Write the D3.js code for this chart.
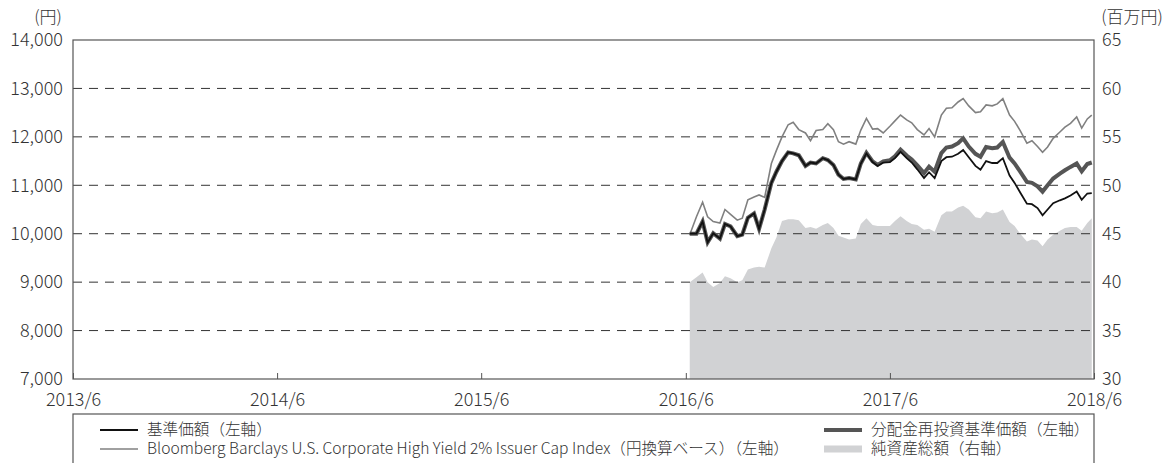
<!DOCTYPE html>
<html><head><meta charset="utf-8">
<script src="https://cdn.jsdelivr.net/npm/d3@7"></script>
<style>
body{margin:0;background:#fff;}
text{font-family:"Noto Sans CJK JP","Noto Sans",sans-serif;fill:#333;font-weight:300;}
</style></head><body>
<svg id="c" width="1165" height="463"></svg>
<script>
const dates = ["2016-06-08","2016-06-20","2016-07-01","2016-07-10","2016-07-20","2016-08-01","2016-08-10","2016-08-20","2016-09-01","2016-09-10","2016-09-20","2016-10-01","2016-10-10","2016-10-20","2016-11-01","2016-11-10","2016-11-20","2016-12-01","2016-12-10","2016-12-20","2017-01-01","2017-01-10","2017-01-20","2017-02-01","2017-02-10","2017-02-20","2017-03-01","2017-03-10","2017-03-20","2017-04-01","2017-04-10","2017-04-20","2017-05-01","2017-05-10","2017-05-20","2017-06-01","2017-06-10","2017-06-20","2017-07-01","2017-07-10","2017-07-20","2017-08-01","2017-08-10","2017-08-20","2017-09-01","2017-09-10","2017-09-20","2017-10-01","2017-10-10","2017-10-20","2017-11-01","2017-11-10","2017-11-20","2017-12-01","2017-12-10","2017-12-20","2018-01-01","2018-01-10","2018-01-20","2018-02-01","2018-02-10","2018-02-20","2018-03-01","2018-03-10","2018-03-20","2018-04-01","2018-04-10","2018-04-20","2018-05-01","2018-05-10","2018-05-20","2018-05-28"];
const nav = [10000,10000,10250,9820,10010,9900,10200,10150,9950,9980,10330,10420,10100,10500,11050,11280,11500,11680,11660,11620,11400,11470,11450,11560,11520,11420,11220,11130,11150,11120,11450,11660,11480,11400,11470,11480,11560,11690,11560,11470,11330,11150,11270,11150,11500,11580,11590,11650,11730,11580,11400,11320,11500,11460,11460,11560,11200,11050,10850,10620,10610,10530,10380,10500,10630,10690,10730,10790,10870,10700,10830,10840];
const navReinv = [10000,10000,10250,9820,10010,9900,10200,10150,9950,9980,10330,10420,10100,10500,11050,11280,11500,11680,11660,11620,11400,11470,11450,11560,11520,11420,11220,11130,11150,11120,11450,11670,11495,11420,11495,11515,11600,11735,11615,11535,11410,11250,11385,11280,11665,11780,11800,11870,11970,11800,11650,11590,11790,11765,11780,11895,11570,11450,11280,11070,11050,10980,10870,11000,11140,11240,11310,11380,11450,11290,11440,11470];
const bench = [9980,10350,10650,10350,10250,10220,10500,10400,10280,10320,10700,10760,10800,10750,11450,11720,12000,12250,12300,12150,12080,11920,12130,12150,12270,12150,11900,11850,11900,11850,12140,12380,12160,12170,12080,12220,12330,12450,12350,12290,12150,12040,12170,12000,12450,12590,12600,12720,12790,12640,12500,12520,12660,12640,12680,12790,12450,12320,12130,11870,11920,11800,11680,11790,11970,12100,12200,12280,12410,12180,12370,12450];
const assets = [40.0,40.5,41.0,40.0,39.5,39.9,40.6,40.4,40.0,40.2,41.3,41.5,41.6,41.5,43.5,44.6,46.3,46.5,46.5,46.4,45.6,45.7,45.5,45.9,46.1,45.6,44.8,44.6,44.4,44.5,46.0,46.6,45.9,45.8,45.8,45.8,46.3,46.8,46.3,46.0,45.9,45.4,45.5,45.2,46.9,47.3,47.3,47.7,47.9,47.5,46.7,46.6,47.3,47.1,47.2,47.5,46.2,45.8,45.0,44.2,44.4,44.3,43.7,44.4,44.9,45.3,45.6,45.7,45.7,45.3,46.1,46.6];
const leftTicks = [7000,8000,9000,10000,11000,12000,13000,14000];
const rightTicks = [30,35,40,45,50,55,60,65];
const xTickLabels = ["2013/6","2014/6","2015/6","2016/6","2017/6","2018/6"];
const legendLabels = ["基準価額（左軸）","Bloomberg Barclays U.S. Corporate High Yield 2% Issuer Cap Index（円換算ベース）（左軸）","分配金再投資基準価額（左軸）","純資産総額（右軸）"];

const parse = d3.timeParse("%Y-%m-%d");
const L = 73, R = 1094, T = 40, B = 379;
const svg = d3.select("#c");
const x = d3.scaleTime().domain([parse("2013-06-01"), parse("2018-06-01")]).range([L, R]);
const yL = d3.scaleLinear().domain([7000, 14000]).range([B, T]);
const yR = d3.scaleLinear().domain([30, 65]).range([B, T]);
const data = dates.map((d, i) => ({d: parse(d), nav: nav[i], re: navReinv[i], bm: bench[i], as: assets[i]}));

svg.append("path").datum(data)
  .attr("d", d3.area().x(d => x(d.d)).y0(yR(30)).y1(d => yR(d.as)))
  .attr("fill", "#d1d2d4");

svg.append("g").selectAll("line").data(leftTicks.filter(v => v > 7000 && v < 14000)).join("line")
  .attr("x1", L).attr("x2", R).attr("y1", d => yL(d)).attr("y2", d => yL(d))
  .attr("stroke", "#333").attr("stroke-width", 1).attr("stroke-dasharray", "9,7");

svg.append("path").datum(data)
  .attr("d", d3.line().x(d => x(d.d)).y(d => yL(d.bm)))
  .attr("fill", "none").attr("stroke", "#808080").attr("stroke-width", 1.6);
svg.append("path").datum(data)
  .attr("d", d3.line().x(d => x(d.d)).y(d => yL(d.re)))
  .attr("fill", "none").attr("stroke", "#555").attr("stroke-width", 4);
svg.append("path").datum(data)
  .attr("d", d3.line().x(d => x(d.d)).y(d => yL(d.nav)))
  .attr("fill", "none").attr("stroke", "#111").attr("stroke-width", 1.8);

svg.append("rect").attr("x", L).attr("y", T).attr("width", R - L).attr("height", B - T)
  .attr("fill", "none").attr("stroke", "#555").attr("stroke-width", 1.2);

const axL = d3.axisLeft(yL).tickValues(leftTicks).tickFormat(d3.format(",")).tickSize(0).tickPadding(10);
const gL = svg.append("g").attr("transform", `translate(${L},0)`).call(axL);
gL.select(".domain").remove();
gL.selectAll("text").style("font-size", "18px").attr("fill", "#333");

const axR = d3.axisRight(yR).tickValues(rightTicks).tickSize(0).tickPadding(8);
const gR = svg.append("g").attr("transform", `translate(${R},0)`).call(axR);
gR.select(".domain").remove();
gR.selectAll("text").style("font-size", "18px").attr("fill", "#333");

const xTicks = xTickLabels.map(s => d3.timeParse("%Y/%m")(s));
const axB = d3.axisBottom(x).tickValues(xTicks).tickFormat((d, i) => xTickLabels[i]).tickSize(-6).tickPadding(14);
const gB = svg.append("g").attr("transform", `translate(0,${B})`).call(axB);
gB.select(".domain").remove();
gB.selectAll("line").attr("stroke", "#555");
gB.selectAll("text").style("font-size", "18px").attr("fill", "#333");

svg.append("text").attr("x", 48).attr("y", 23).attr("text-anchor", "middle").style("font-size", "17px").text("(円)");
svg.append("text").attr("x", 1132).attr("y", 23).attr("text-anchor", "middle").style("font-size", "17px").text("(百万円)");

svg.append("rect").attr("x", L).attr("y", 414).attr("width", R - L).attr("height", 80)
  .attr("fill", "none").attr("stroke", "#555").attr("stroke-width", 1.2);
const leg = [
  {x: 100, y: 430, stroke: "#111", w: 1.8, t: legendLabels[0]},
  {x: 100, y: 449, stroke: "#808080", w: 1.6, t: legendLabels[1]},
  {x: 824, y: 430, stroke: "#555", w: 4, t: legendLabels[2]},
  {x: 824, y: 449, stroke: "#d1d2d4", w: 7, t: legendLabels[3]}
];
const lg = svg.append("g").selectAll("g").data(leg).join("g");
lg.append("line").attr("x1", d => d.x).attr("x2", d => d.x + 38).attr("y1", d => d.y).attr("y2", d => d.y)
  .attr("stroke", d => d.stroke).attr("stroke-width", d => d.w);
lg.append("text").attr("x", d => d.x + 47).attr("y", d => d.y).attr("dy", "0.35em")
  .style("font-size", "15.6px").text(d => d.t);
</script></body></html>
